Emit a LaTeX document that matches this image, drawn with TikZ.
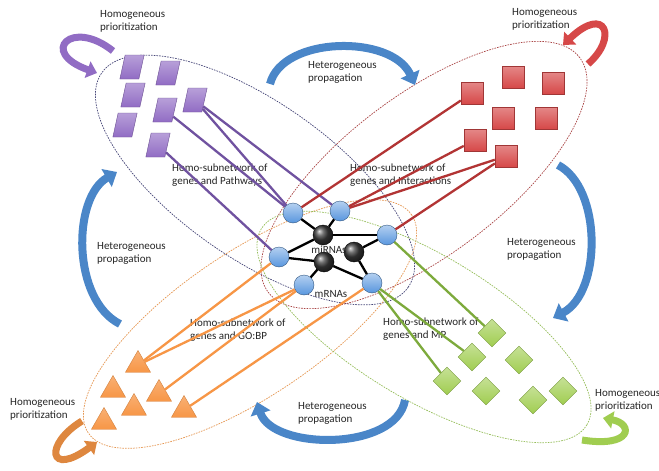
\documentclass[tikz,border=0pt]{standalone}
\usepackage{xcolor}
\usepackage{fontspec}
\setmainfont{Carlito}
\usepackage{tikz}
\usetikzlibrary{arrows.meta, positioning, shapes.geometric}

\definecolor{hetblue}{RGB}{74,134,200}
\definecolor{genblue}{RGB}{88,150,222}
\definecolor{pathpurple}{RGB}{145,108,196}
\definecolor{pathline}{RGB}{112,82,160}
\definecolor{interred}{RGB}{214,72,72}
\definecolor{interline}{RGB}{178,52,52}
\definecolor{gobporange}{RGB}{247,150,70}
\definecolor{mpgreen}{RGB}{160,205,80}
\definecolor{mpline}{RGB}{125,170,60}
\definecolor{rimnavy}{RGB}{70,70,120}
\definecolor{rimred}{RGB}{170,70,70}
\definecolor{rimorange}{RGB}{230,150,80}
\definecolor{rimgreen}{RGB}{150,190,90}

\begin{document}
\begin{tikzpicture}[
    x=1pt, y=-1pt,
    font=\fontsize{11}{13}\selectfont,
    annot/.style={align=left, anchor=west, inner sep=0pt, text=black!85},
    gene/.style={circle, draw=genblue!60!black, top color=genblue!45!white, bottom color=genblue, minimum size=20pt, inner sep=0pt},
    mirna/.style={circle, draw=black, ball color=black!75, minimum size=20pt, inner sep=0pt},
    pathway/.style={rectangle, xslant=0.22, draw=pathpurple!75!black, top color=pathpurple!65!white, bottom color=pathpurple, minimum width=19pt, minimum height=24pt, inner sep=0pt},
    interaction/.style={rectangle, draw=interred!75!black, top color=interred!65!white, bottom color=interred, minimum size=22pt, inner sep=0pt},
    gobp/.style={regular polygon, regular polygon sides=3, draw=gobporange!85!black, top color=gobporange!75!white, bottom color=gobporange, minimum size=29pt, inner sep=0pt},
    mp/.style={diamond, draw=mpgreen!75!black, top color=mpgreen!60!white, bottom color=mpgreen, minimum size=28pt, inner sep=0pt},
    rim/.style={dash pattern=on 1.6pt off 1.1pt, line width=0.7pt},
    link/.style={line width=2.3pt},
    hetero/.style={line width=8pt, draw=hetblue, -{Triangle[width=20pt, length=12pt]}},
    homo/.style={line width=7pt, -{Triangle[width=17pt, length=10pt]}}
]
\fill[white] (0,0) rectangle (659,471);
\useasboundingbox (0,0) rectangle (659,471);

\draw[rim, rimnavy, rotate around={-35:(255,180)}] (255,180) ellipse [x radius=187pt, y radius=78pt];
\draw[rim, rimred, rotate around={37:(424,175)}] (424,175) ellipse [x radius=195pt, y radius=80pt];
\draw[rim, rimorange, rotate around={34:(250,324)}] (250,324) ellipse [x radius=195pt, y radius=72pt];
\draw[rim, rimgreen, rotate around={-31:(424,327)}] (424,327) ellipse [x radius=190pt, y radius=72pt];

\draw[hetero] (270,84) .. controls (282,36) and (392,34) .. (415,85);
\draw[hetero] (558,165) .. controls (602,188) and (602,292) .. (553,318);
\draw[hetero] (405,400) .. controls (396,452) and (272,450) .. (257,402);
\draw[hetero] (120,324) .. controls (72,300) and (72,198) .. (117,172);

\draw[homo, pathpurple] (113,51) .. controls (72,18) and (38,52) .. (97,73);
\draw[homo, interred] (588,64) .. controls (618,38) and (606,4) .. (563,45);
\draw[homo, gobporange!90!black] (82,421) .. controls (44,444) and (48,478) .. (97,442);
\draw[homo, mpgreen] (582,440) .. controls (632,448) and (634,424) .. (603,418);

\node[annot] (homopath) at (100,21.5) {Homogeneous\\prioritization};
\node[annot] (homointer) at (512,19.5) {Homogeneous\\prioritization};
\node[annot] (homogobp) at (10,409) {Homogeneous\\prioritization};
\node[annot] (homomp) at (595,400.5) {Homogeneous\\prioritization};
\node[annot] (hettop) at (308,72.5) {Heterogeneous\\propagation};
\node[annot] (hetright) at (507,249.5) {Heterogeneous\\propagation};
\node[annot] (hetbottom) at (298,413.5) {Heterogeneous\\propagation};
\node[annot] (hetleft) at (97,253.5) {Heterogeneous\\propagation};
\node[annot] (subpath) at (172,175.5) {Homo-subnetwork of\\genes and Pathways};
\node[annot] (subinter) at (350,175.5) {Homo-subnetwork of\\genes and Interactions};
\node[annot] (subgobp) at (190,330.5) {Homo-subnetwork of\\genes and GO:BP};
\node[annot] (submp) at (383,329.5) {Homo-subnetwork of\\genes and MP};

\node[gene] (gene1) at (293,213) {};
\node[gene] (gene2) at (340,211) {};
\node[gene] (gene3) at (387,235) {};
\node[gene] (gene4) at (279,257) {};
\node[gene] (gene5) at (304,285) {};
\node[gene] (gene6) at (372,283) {};
\node[mirna] (mirna1) at (323,235) {};
\node[mirna] (mirna2) at (324,262) {};
\node[mirna] (mirna3) at (354,252) {};
\node[annot, anchor=center] (mirnas) at (329,250) {miRNAs};
\node[annot, anchor=center] (mrnas) at (331,294) {mRNAs};

\node[pathway] (path1) at (132,67) {};
\node[pathway] (path2) at (168,73) {};
\node[pathway] (path3) at (133,95) {};
\node[pathway] (path4) at (165,110) {};
\node[pathway] (path5) at (195,100) {};
\node[pathway] (path6) at (125,125) {};
\node[pathway] (path7) at (158,145) {};

\node[interaction] (inter1) at (472,93) {};
\node[interaction] (inter2) at (513,77) {};
\node[interaction] (inter3) at (553,83) {};
\node[interaction] (inter4) at (503,118) {};
\node[interaction] (inter5) at (546,118) {};
\node[interaction] (inter6) at (475,140) {};
\node[interaction] (inter7) at (506,156) {};

\node[gobp] (gobp1) at (138,365) {};
\node[gobp] (gobp2) at (113,390) {};
\node[gobp] (gobp3) at (159,394) {};
\node[gobp] (gobp4) at (134,408) {};
\node[gobp] (gobp5) at (104,422) {};
\node[gobp] (gobp6) at (184,410) {};

\node[mp] (mp1) at (492,333) {};
\node[mp] (mp2) at (472,357) {};
\node[mp] (mp3) at (519,360) {};
\node[mp] (mp4) at (447,381) {};
\node[mp] (mp5) at (486,391) {};
\node[mp] (mp6) at (533,400) {};
\node[mp] (mp7) at (563,391) {};

\draw[link, black] (gene1) -- (mirna1);
\draw[link, black] (gene2) -- (mirna1);
\draw[link, black] (mirna1) -- (gene3);
\draw[link, black] (gene4) -- (mirna1);
\draw[link, black] (gene4) -- (mirna2);
\draw[link, black] (mirna2) -- (gene5);
\draw[link, black] (mirna2) -- (gene6);
\draw[link, black] (mirna3) -- (gene3);
\draw[link, black] (mirna3) -- (gene6);

\draw[link, pathline] (path4) -- (gene1);
\draw[link, pathline] (path5) -- (gene1);
\draw[link, pathline] (path5) -- (gene2);
\draw[link, pathline] (path7) -- (gene4);

\draw[link, interline] (inter1) -- (gene1);
\draw[link, interline] (inter6) -- (gene2);
\draw[link, interline] (inter7) -- (gene2);
\draw[link, interline] (inter7) -- (gene3);

\draw[link, gobporange] (gene4) -- (gobp1);
\draw[link, gobporange] (gene5) -- (gobp1);
\draw[link, gobporange] (gene5) -- (gobp3);
\draw[link, gobporange] (gene6) -- (gobp6);

\draw[link, mpline] (gene3) -- (mp1);
\draw[link, mpline] (gene6) -- (mp2);
\draw[link, mpline] (gene6) -- (mp4);
\end{tikzpicture}
\end{document}
